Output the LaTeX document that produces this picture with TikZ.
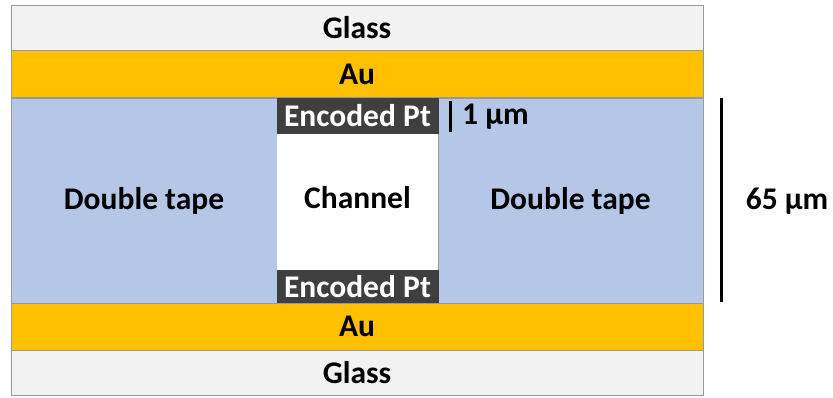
\documentclass[tikz,border=0pt]{standalone}
\usepackage{fontspec}
\setmainfont{Carlito}
\usepackage{tikz}
\usetikzlibrary{positioning}
\definecolor{glassgray}{HTML}{F2F2F2}
\definecolor{gold}{HTML}{FFC000}
\definecolor{tapeblue}{HTML}{B4C7E7}
\definecolor{ptgray}{HTML}{3F3F3F}
\tikzstyle{layer}=[
        rectangle,
        draw=black!40,
        line width=1pt,
        inner sep=0pt,
        outer sep=0pt,
        font=\fontsize{31.5}{33}\selectfont\bfseries
]
\tikzstyle{glass}=[layer,fill=glassgray,minimum width=692pt,minimum height=45pt]
\tikzstyle{au}=[layer,fill=gold,minimum width=692pt,minimum height=47pt]
\tikzstyle{tape}=[layer,fill=tapeblue,minimum height=205pt]
\tikzstyle{pt}=[layer,fill=ptgray,text=white,draw=ptgray,minimum width=161pt]
\tikzstyle{bar}=[line width=3pt]
\tikzstyle{lbl}=[font=\fontsize{31.5}{33}\selectfont\bfseries,inner sep=0pt]

\begin{document}
\begin{tikzpicture}[x=1pt,y=-1pt]
\useasboundingbox (0,0) rectangle (833,397);
\node[glass] (glassT) at (357,27.5) {Glass};
\node[au] (auT) at (357,74) {Au};
\node[tape,minimum width=266pt] (tapeL) at (144,200.5) {Double tape};
\node[tape,minimum width=265pt] (tapeR) at (570.5,200.5) {Double tape};
\node[layer,fill=white,draw=none,minimum width=161pt,minimum height=137pt,text depth=8pt] (chan) at (357.5,201.5) {Channel};
\node[pt,minimum height=35pt] (ptT) at (357.5,115.5) {Encoded Pt};
\node[pt,minimum height=33pt] (ptB) at (357.5,286.5) {Encoded Pt};
\node[au] (auB) at (357,326.5) {Au};
\node[glass] (glassB) at (357,373) {Glass};
%scale bars
\coordinate (s1a) at (450,101);
\coordinate (s1b) at (450,132);
\coordinate (s2a) at (721,98);
\coordinate (s2b) at (721,302);
\draw[bar] (s1a) -- (s1b);
\draw[bar] (s2a) -- (s2b);
\node[lbl,anchor=west] (one) at (462,117) {1 µm};
\node[lbl] (sixtyfive) at (787,201) {65 µm};
\end{tikzpicture}
\end{document}
